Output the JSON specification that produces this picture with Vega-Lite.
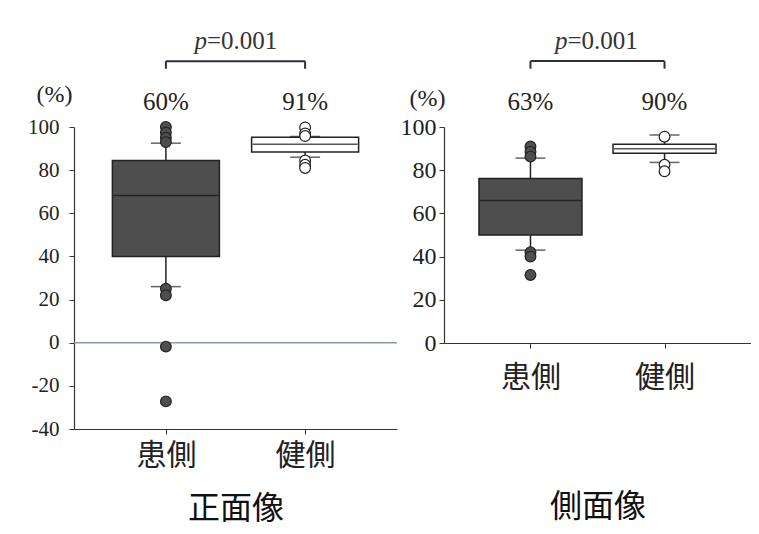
{
  "$schema": "https://vega.github.io/schema/vega-lite/v6.json",
  "background": "white",
  "padding": {"left": 27, "top": 29, "right": 0, "bottom": 12},
  "spacing": 2,
  "config": {"view": {"stroke": null}, "font": "Liberation Serif"},
  "datasets": {
    "front_box": [
      {"side": "患側", "lower": 26, "q1": 40, "median": 68.3, "q3": 84.5, "upper": 92.5},
      {"side": "健側", "lower": 86, "q1": 88.4, "median": 92, "q3": 95.3, "upper": 95.6}
    ],
    "front_out": [
      {"side": "患側", "value": 100}, {"side": "患側", "value": 97.5}, {"side": "患側", "value": 95}, {"side": "患側", "value": 93},
      {"side": "患側", "value": 25}, {"side": "患側", "value": 22}, {"side": "患側", "value": -1.8}, {"side": "患側", "value": -27.2},
      {"side": "健側", "value": 99.8}, {"side": "健側", "value": 97}, {"side": "健側", "value": 95.8},
      {"side": "健側", "value": 84.5}, {"side": "健側", "value": 82.5}, {"side": "健側", "value": 81}
    ],
    "front_ann": [
      {"side": "患側", "label": "60%", "y": 108},
      {"side": "健側", "label": "91%", "y": 108}
    ],
    "side_box": [
      {"side": "患側", "lower": 43, "q1": 50, "median": 66, "q3": 76.2, "upper": 85.6},
      {"side": "健側", "lower": 83.6, "q1": 87.8, "median": 89.9, "q3": 92, "upper": 96.3}
    ],
    "side_out": [
      {"side": "患側", "value": 91}, {"side": "患側", "value": 88.5}, {"side": "患側", "value": 86.3},
      {"side": "患側", "value": 42}, {"side": "患側", "value": 40}, {"side": "患側", "value": 31.5},
      {"side": "健側", "value": 95.5},
      {"side": "健側", "value": 82.5}, {"side": "健側", "value": 79.5}
    ],
    "side_ann": [
      {"side": "患側", "label": "63%", "y": 108},
      {"side": "健側", "label": "90%", "y": 108}
    ],
    "bracket": [{"from": "患側", "to": "健側", "y": 130.5, "end": 127, "italic": "p", "rest": "=0.001", "py": 136}],
    "bracket_ends": [{"side": "患側", "y": 130.5, "end": 127}, {"side": "健側", "y": 130.5, "end": 127}],
    "zero": [{"y": 0}]
  },
  "hconcat": [
    {
      "width": 323,
      "height": 302,
      "layer": [
        {
          "data": {"name": "zero"},
          "mark": {"type": "rule", "color": "#8d9ca2", "strokeWidth": 1.5},
          "encoding": {
            "y": {
              "field": "y", "type": "quantitative",
              "scale": {"domain": [-40, 100], "nice": false, "zero": false},
              "axis": {
                "values": [-40, -30, -20, -10, 0, 10, 20, 30, 40, 50, 60, 70, 80, 90, 100],
                "labelExpr": "datum.value % 20 === 0 ? '' + datum.value : ''",
                "grid": false, "tickSize": 5, "tickColor": "#333", "domainColor": "#333", "domainWidth": 1.2,
                "labelFont": "Liberation Serif", "labelFontSize": 21, "labelColor": "#222", "labelPadding": 10,
                "title": "(%)", "titleAngle": 0, "titleX": -20, "titleY": -33, "titleAlign": "center", "titleBaseline": "middle",
                "titleFont": "Liberation Serif", "titleFontSize": 24, "titleFontWeight": "normal", "titleColor": "#222"
              }
            }
          }
        },
        {
          "data": {"name": "front_box"},
          "mark": {"type": "rule", "color": "#222", "strokeWidth": 1.5},
          "encoding": {
            "x": {
              "field": "side", "type": "nominal",
              "scale": {"type": "point", "padding": 0.66, "domain": ["患側", "健側"]},
              "axis": {
                "labelAngle": 0, "labelFont": "Noto Sans CJK JP", "labelFontSize": 30, "labelColor": "#222", "labelPadding": 6,
                "tickSize": 5, "tickColor": "#333", "domainColor": "#333", "domainWidth": 1.2,
                "title": "正面像", "titleFont": "Noto Sans CJK JP", "titleFontSize": 32, "titleFontWeight": "normal", "titleColor": "#111", "titlePadding": 23
              }
            },
            "y": {"field": "lower", "type": "quantitative"},
            "y2": {"field": "upper"}
          }
        },
        {
          "data": {"name": "front_box"},
          "mark": {"type": "tick", "size": 30, "thickness": 1.5, "color": "#222"},
          "encoding": {"x": {"field": "side", "type": "nominal"}, "y": {"field": "lower", "type": "quantitative"}}
        },
        {
          "data": {"name": "front_box"},
          "mark": {"type": "tick", "size": 30, "thickness": 1.5, "color": "#222"},
          "encoding": {"x": {"field": "side", "type": "nominal"}, "y": {"field": "upper", "type": "quantitative"}}
        },
        {
          "data": {"name": "front_box"},
          "mark": {"type": "bar", "size": 107, "stroke": "#222", "strokeWidth": 1.5},
          "encoding": {
            "x": {"field": "side", "type": "nominal"},
            "y": {"field": "q1", "type": "quantitative"},
            "y2": {"field": "q3"},
            "fill": {"field": "side", "type": "nominal", "scale": {"domain": ["患側", "健側"], "range": ["#4e4e4e", "#ffffff"]}, "legend": null}
          }
        },
        {
          "data": {"name": "front_box"},
          "mark": {"type": "tick", "size": 105, "thickness": 1.5, "color": "#111"},
          "encoding": {"x": {"field": "side", "type": "nominal"}, "y": {"field": "median", "type": "quantitative"}}
        },
        {
          "data": {"name": "front_out"},
          "mark": {"type": "point", "filled": true, "size": 115, "stroke": "#222", "strokeWidth": 1.2, "opacity": 1},
          "encoding": {
            "x": {"field": "side", "type": "nominal"},
            "y": {"field": "value", "type": "quantitative"},
            "fill": {"field": "side", "type": "nominal", "scale": {"domain": ["患側", "健側"], "range": ["#4e4e4e", "#ffffff"]}, "legend": null}
          }
        },
        {
          "data": {"name": "front_ann"},
          "mark": {"type": "text", "font": "Liberation Serif", "fontSize": 25, "color": "#222", "baseline": "alphabetic"},
          "encoding": {"x": {"field": "side", "type": "nominal"}, "y": {"field": "y", "type": "quantitative"}, "text": {"field": "label"}}
        },
        {
          "data": {"name": "bracket"},
          "mark": {"type": "rule", "color": "#2e2e3e", "strokeWidth": 2},
          "encoding": {"x": {"field": "from", "type": "nominal"}, "x2": {"field": "to"}, "y": {"field": "y", "type": "quantitative"}}
        },
        {
          "data": {"name": "bracket_ends"},
          "mark": {"type": "rule", "color": "#2e2e3e", "strokeWidth": 2},
          "encoding": {"x": {"field": "side", "type": "nominal"}, "y": {"field": "y", "type": "quantitative"}, "y2": {"field": "end"}}
        },
        {
          "data": {"name": "bracket"},
          "mark": {"type": "text", "font": "Liberation Serif", "fontSize": 25, "fontStyle": "italic", "color": "#333", "align": "right", "baseline": "alphabetic", "dx": 41},
          "encoding": {"x": {"field": "from", "type": "nominal"}, "y": {"field": "py", "type": "quantitative"}, "text": {"field": "italic"}}
        },
        {
          "data": {"name": "bracket"},
          "mark": {"type": "text", "font": "Liberation Serif", "fontSize": 25, "color": "#333", "align": "left", "baseline": "alphabetic", "dx": 41},
          "encoding": {"x": {"field": "from", "type": "nominal"}, "y": {"field": "py", "type": "quantitative"}, "text": {"field": "rest"}}
        }
      ]
    },
    {
      "width": 307,
      "height": 216,
      "layer": [
        {
          "data": {"name": "side_box"},
          "mark": {"type": "rule", "color": "#222", "strokeWidth": 1.5},
          "encoding": {
            "x": {
              "field": "side", "type": "nominal",
              "scale": {"type": "point", "padding": 0.645, "domain": ["患側", "健側"]},
              "axis": {
                "labelAngle": 0, "labelFont": "Noto Sans CJK JP", "labelFontSize": 30, "labelColor": "#222", "labelPadding": 14,
                "tickSize": 5, "tickColor": "#333", "domainColor": "#333", "domainWidth": 1.2,
                "title": "側面像", "titleFont": "Noto Sans CJK JP", "titleFontSize": 32, "titleFontWeight": "normal", "titleColor": "#111", "titlePadding": 99
              }
            },
            "y": {
              "field": "lower", "type": "quantitative",
              "scale": {"domain": [0, 100], "nice": false},
              "axis": {
                "values": [0, 10, 20, 30, 40, 50, 60, 70, 80, 90, 100],
                "labelExpr": "datum.value % 20 === 0 ? '' + datum.value : ''",
                "grid": false, "tickSize": 5, "tickColor": "#333", "domainColor": "#333", "domainWidth": 1.2,
                "labelFont": "Liberation Serif", "labelFontSize": 24, "labelColor": "#222", "labelPadding": 3,
                "title": "(%)", "titleAngle": 0, "titleX": -17, "titleY": -29, "titleAlign": "center", "titleBaseline": "middle",
                "titleFont": "Liberation Serif", "titleFontSize": 24, "titleFontWeight": "normal", "titleColor": "#222"
              }
            },
            "y2": {"field": "upper"}
          }
        },
        {
          "data": {"name": "side_box"},
          "mark": {"type": "tick", "size": 30, "thickness": 1.5, "color": "#222"},
          "encoding": {"x": {"field": "side", "type": "nominal"}, "y": {"field": "lower", "type": "quantitative"}}
        },
        {
          "data": {"name": "side_box"},
          "mark": {"type": "tick", "size": 30, "thickness": 1.5, "color": "#222"},
          "encoding": {"x": {"field": "side", "type": "nominal"}, "y": {"field": "upper", "type": "quantitative"}}
        },
        {
          "data": {"name": "side_box"},
          "mark": {"type": "bar", "size": 103, "stroke": "#222", "strokeWidth": 1.5},
          "encoding": {
            "x": {"field": "side", "type": "nominal"},
            "y": {"field": "q1", "type": "quantitative"},
            "y2": {"field": "q3"},
            "fill": {"field": "side", "type": "nominal", "scale": {"domain": ["患側", "健側"], "range": ["#4e4e4e", "#ffffff"]}, "legend": null}
          }
        },
        {
          "data": {"name": "side_box"},
          "mark": {"type": "tick", "size": 101, "thickness": 1.5, "color": "#111"},
          "encoding": {"x": {"field": "side", "type": "nominal"}, "y": {"field": "median", "type": "quantitative"}}
        },
        {
          "data": {"name": "side_out"},
          "mark": {"type": "point", "filled": true, "size": 115, "stroke": "#222", "strokeWidth": 1.2, "opacity": 1},
          "encoding": {
            "x": {"field": "side", "type": "nominal"},
            "y": {"field": "value", "type": "quantitative"},
            "fill": {"field": "side", "type": "nominal", "scale": {"domain": ["患側", "健側"], "range": ["#4e4e4e", "#ffffff"]}, "legend": null}
          }
        },
        {
          "data": {"name": "side_ann"},
          "mark": {"type": "text", "font": "Liberation Serif", "fontSize": 25, "color": "#222", "baseline": "alphabetic"},
          "encoding": {"x": {"field": "side", "type": "nominal"}, "y": {"field": "y", "type": "quantitative"}, "text": {"field": "label"}}
        },
        {
          "data": {"name": "bracket"},
          "mark": {"type": "rule", "color": "#2e2e3e", "strokeWidth": 2},
          "encoding": {"x": {"field": "from", "type": "nominal"}, "x2": {"field": "to"}, "y": {"field": "y", "type": "quantitative"}}
        },
        {
          "data": {"name": "bracket_ends"},
          "mark": {"type": "rule", "color": "#2e2e3e", "strokeWidth": 2},
          "encoding": {"x": {"field": "side", "type": "nominal"}, "y": {"field": "y", "type": "quantitative"}, "y2": {"field": "end"}}
        },
        {
          "data": {"name": "bracket"},
          "mark": {"type": "text", "font": "Liberation Serif", "fontSize": 25, "fontStyle": "italic", "color": "#333", "align": "right", "baseline": "alphabetic", "dx": 37},
          "encoding": {"x": {"field": "from", "type": "nominal"}, "y": {"field": "py", "type": "quantitative"}, "text": {"field": "italic"}}
        },
        {
          "data": {"name": "bracket"},
          "mark": {"type": "text", "font": "Liberation Serif", "fontSize": 25, "color": "#333", "align": "left", "baseline": "alphabetic", "dx": 37},
          "encoding": {"x": {"field": "from", "type": "nominal"}, "y": {"field": "py", "type": "quantitative"}, "text": {"field": "rest"}}
        }
      ]
    }
  ]
}
